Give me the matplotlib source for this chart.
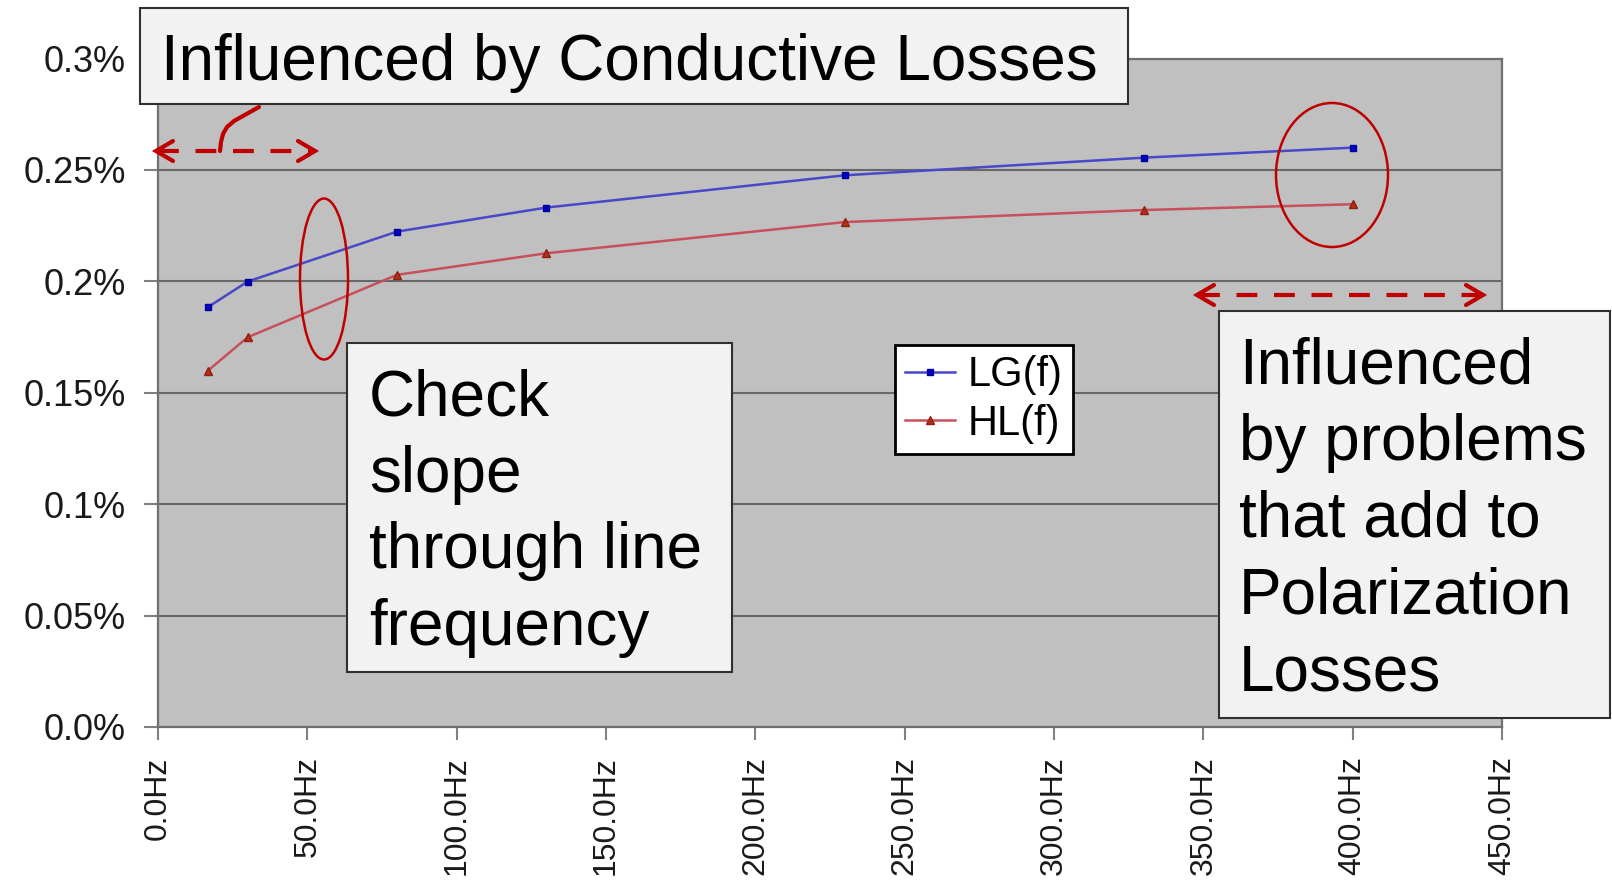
import matplotlib.pyplot as plt
import matplotlib.transforms as transforms
from matplotlib.patches import Ellipse, Rectangle
from matplotlib.lines import Line2D
import numpy as np

# values (frequency in Hz, loss in %)
freqHz = [16.7, 30, 80, 130, 230, 330, 400]
lgValues = [0.1884, 0.1999, 0.2223, 0.2331, 0.2476, 0.2555, 0.2600]
hlValues = [0.1599, 0.1749, 0.2029, 0.2126, 0.2266, 0.2320, 0.2346]
seriesNames = ['LG(f)', 'HL(f)']

yTicks = [0.0, 0.05, 0.1, 0.15, 0.2, 0.25, 0.3]
yTickLabels = ['0.0%', '0.05%', '0.1%', '0.15%', '0.2%', '0.25%', '0.3%']
xTicks = [0, 50, 100, 150, 200, 250, 300, 350, 400, 450]
xTickLabels = ['%.1fHz' % v for v in xTicks]

topNote = 'Influenced by Conductive Losses'
slopeNote = ['Check', 'slope', 'through line', 'frequency']
polarNote = ['Influenced', 'by problems', 'that add to', 'Polarization', 'Losses']

W, H = 1612, 882
RED = '#c00000'
FONT = 'Liberation Sans'

fig = plt.figure(figsize=(W / 100, H / 100), dpi=100)
# pixel coordinates measured from the top-left corner of the image
pix = transforms.Affine2D().scale(1 / W, -1 / H).translate(0, 1) + fig.transFigure

left, right, top, bottom = 158, 1502, 58.5, 727
ax = fig.add_axes([left / W, 1 - bottom / H, (right - left) / W, (bottom - top) / H])
ax.set_facecolor('#c0c0c0')
ax.set_xlim(0, 450)
ax.set_ylim(0, 0.3)

for s in ax.spines.values():
    s.set_color('#707070')
    s.set_linewidth(1.6)

ax.set_yticks(yTicks)
ax.set_yticklabels(yTickLabels, family=FONT, fontsize=26, color='#1a1a1a')
ax.set_xticks(xTicks)
ax.set_xticklabels(xTickLabels, family=FONT, fontsize=23, color='#1a1a1a',
                   rotation=90, ha='center', va='top')
ax.tick_params(axis='y', length=10, width=1.5, color='#808080', pad=13)
ax.tick_params(axis='x', length=9, width=1.5, color='#808080', pad=12)
ax.yaxis.grid(True, color='#686868', linewidth=1.5)
ax.set_axisbelow(True)

ax.plot(freqHz, lgValues, color='#4848c8', linewidth=1.8, marker='s', markersize=5,
        markerfacecolor='#0000c0', markeredgecolor='#0000a0', label=seriesNames[0], zorder=3)
ax.plot(freqHz, hlValues, color='#c8505c', linewidth=1.8, marker='^', markersize=6,
        markerfacecolor='#b03018', markeredgecolor='#902010', label=seriesNames[1], zorder=3)

leg = ax.legend(loc='upper left', bbox_to_anchor=(895, 345), bbox_transform=pix,
                borderaxespad=0, prop={'family': FONT, 'size': 30},
                handlelength=1.2, handletextpad=0.3, labelspacing=0.2, borderpad=0.25,
                fancybox=False, framealpha=1, facecolor='white', edgecolor='black')
leg.get_frame().set_linewidth(2)


def noteBox(x0, y0, x1, y1, lines, tx, firstBase, step=76.7):
    fig.add_artist(Rectangle((x0, y0), x1 - x0, y1 - y0, transform=pix, facecolor='#f2f2f2',
                             edgecolor='#303030', linewidth=1.5, zorder=2))
    for i, line in enumerate(lines):
        fig.text(tx, firstBase + i * step, line, transform=pix, family=FONT, fontsize=46,
                 ha='left', va='baseline', color='black', zorder=3)


def dashedArrow(xa, xb, y, head=17, spread=10):
    fig.add_artist(Line2D([xa + 2, xb - 2], [y, y], transform=pix, color=RED, linewidth=3,
                          linestyle=(0, (5, 4)), zorder=4))
    for tip, d in ((xa, 1), (xb, -1)):
        fig.add_artist(Line2D([tip + d * head, tip, tip + d * head], [y - spread, y, y + spread],
                              transform=pix, color=RED, linewidth=3, solid_capstyle='round',
                              solid_joinstyle='miter', zorder=4))


noteBox(140, 8, 1128, 104, [topNote], 161, 80)
noteBox(347, 343, 732, 672, slopeNote, 369, 415)
noteBox(1219, 311, 1610, 718, polarNote, 1239, 383.5)

# connector from the top note to the arrow
fig.add_artist(Line2D([259, 234, 227, 223, 221, 220], [107, 121, 127, 134, 142, 151], transform=pix,
                      color=RED, linewidth=3, solid_capstyle='round', zorder=4))
dashedArrow(156, 315, 151)
dashedArrow(1197, 1483, 295)

for cx, cy, w, h in ((324, 279, 48, 161), (1332, 175, 112, 144)):
    fig.add_artist(Ellipse((cx, cy), w, h, transform=pix, facecolor='none',
                           edgecolor=RED, linewidth=1.8, zorder=4))

fig.savefig('out.png', dpi=100)
